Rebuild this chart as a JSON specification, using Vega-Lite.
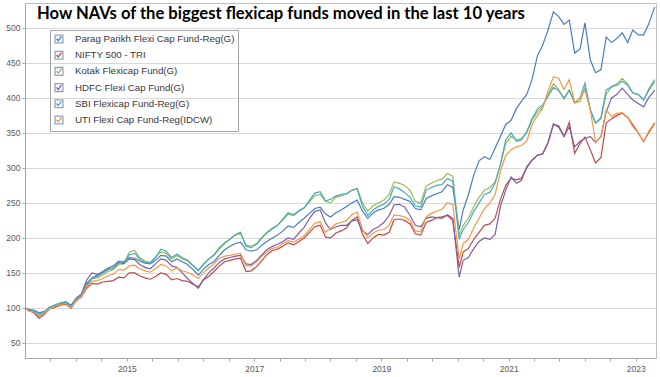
{
  "$schema": "https://vega.github.io/schema/vega-lite/v6.json",
  "width": 631,
  "height": 355,
  "autosize": {"type": "none"},
  "padding": {"left": 25, "top": 3, "right": 4, "bottom": 19},
  "background": "white",
  "title": {
    "text": "How NAVs of the biggest flexicap funds moved in the last 10 years",
    "anchor": "start",
    "frame": "group",
    "font": "Lato",
    "fontSize": 16.6,
    "fontWeight": "bold",
    "color": "#000000",
    "offset": -20,
    "dx": 12
  },
  "config": {
    "view": {"stroke": "#BFBFBF", "strokeWidth": 1},
    "font": "Liberation Sans"
  },
  "layer": [
    {
      "data": {
        "values": [
          {"d": "2013-05-28", "P": 100, "N": 100, "K": 100, "H": 100, "S": 100, "U": 100},
          {"d": "2013-06-15", "P": 98, "N": 96, "K": 97, "H": 97, "S": 97, "U": 96},
          {"d": "2013-07-15", "P": 97, "N": 94, "K": 95, "H": 93, "S": 96, "U": 94},
          {"d": "2013-08-15", "P": 93, "N": 88, "K": 89, "H": 85, "S": 91, "U": 88},
          {"d": "2013-09-15", "P": 95, "N": 92, "K": 93, "H": 91, "S": 95, "U": 92},
          {"d": "2013-10-15", "P": 101, "N": 99, "K": 100, "H": 99, "S": 101, "U": 99},
          {"d": "2013-11-15", "P": 104, "N": 101, "K": 103, "H": 101, "S": 104, "U": 102},
          {"d": "2013-12-15", "P": 107, "N": 104, "K": 106, "H": 105, "S": 107, "U": 105},
          {"d": "2014-01-15", "P": 109, "N": 105, "K": 107, "H": 107, "S": 108, "U": 106},
          {"d": "2014-02-15", "P": 104, "N": 100, "K": 101, "H": 100, "S": 102, "U": 100},
          {"d": "2014-03-15", "P": 114, "N": 110, "K": 112, "H": 112, "S": 112, "U": 110},
          {"d": "2014-04-15", "P": 120, "N": 116, "K": 118, "H": 120, "S": 118, "U": 116},
          {"d": "2014-05-15", "P": 135, "N": 128, "K": 132, "H": 140, "S": 133, "U": 130},
          {"d": "2014-06-15", "P": 143, "N": 135, "K": 142, "H": 150, "S": 142, "U": 138},
          {"d": "2014-07-15", "P": 147, "N": 134, "K": 143, "H": 148, "S": 145, "U": 139},
          {"d": "2014-08-15", "P": 152, "N": 137, "K": 147, "H": 150, "S": 150, "U": 142},
          {"d": "2014-09-15", "P": 157, "N": 138, "K": 152, "H": 155, "S": 155, "U": 146},
          {"d": "2014-10-15", "P": 160, "N": 139, "K": 155, "H": 157, "S": 157, "U": 148},
          {"d": "2014-11-15", "P": 167, "N": 144, "K": 162, "H": 165, "S": 164, "U": 155},
          {"d": "2014-12-15", "P": 166, "N": 143, "K": 163, "H": 163, "S": 165, "U": 154},
          {"d": "2015-01-15", "P": 172, "N": 150, "K": 180, "H": 170, "S": 176, "U": 160},
          {"d": "2015-02-15", "P": 171, "N": 150, "K": 182, "H": 169, "S": 178, "U": 161},
          {"d": "2015-03-15", "P": 167, "N": 146, "K": 172, "H": 162, "S": 170, "U": 156},
          {"d": "2015-04-15", "P": 164, "N": 143, "K": 167, "H": 158, "S": 165, "U": 153},
          {"d": "2015-05-15", "P": 163, "N": 141, "K": 165, "H": 156, "S": 164, "U": 151},
          {"d": "2015-06-15", "P": 168, "N": 145, "K": 173, "H": 163, "S": 172, "U": 156},
          {"d": "2015-07-15", "P": 175, "N": 150, "K": 180, "H": 170, "S": 184, "U": 162},
          {"d": "2015-08-15", "P": 174, "N": 148, "K": 178, "H": 168, "S": 181, "U": 160},
          {"d": "2015-09-15", "P": 166, "N": 140, "K": 170, "H": 160, "S": 172, "U": 153},
          {"d": "2015-10-15", "P": 170, "N": 142, "K": 175, "H": 158, "S": 177, "U": 157},
          {"d": "2015-11-15", "P": 166, "N": 139, "K": 170, "H": 150, "S": 172, "U": 153},
          {"d": "2015-12-15", "P": 162, "N": 138, "K": 167, "H": 142, "S": 168, "U": 151},
          {"d": "2016-01-15", "P": 155, "N": 134, "K": 160, "H": 135, "S": 161, "U": 147},
          {"d": "2016-02-15", "P": 147, "N": 130, "K": 153, "H": 128, "S": 154, "U": 142},
          {"d": "2016-03-15", "P": 155, "N": 140, "K": 162, "H": 140, "S": 162, "U": 150},
          {"d": "2016-04-15", "P": 162, "N": 145, "K": 170, "H": 150, "S": 170, "U": 157},
          {"d": "2016-05-15", "P": 166, "N": 152, "K": 175, "H": 157, "S": 176, "U": 163},
          {"d": "2016-06-15", "P": 175, "N": 160, "K": 184, "H": 165, "S": 186, "U": 171},
          {"d": "2016-07-15", "P": 183, "N": 166, "K": 192, "H": 170, "S": 193, "U": 174},
          {"d": "2016-08-15", "P": 188, "N": 168, "K": 198, "H": 172, "S": 198, "U": 175},
          {"d": "2016-09-15", "P": 192, "N": 170, "K": 204, "H": 174, "S": 205, "U": 177},
          {"d": "2016-10-15", "P": 194, "N": 171, "K": 206, "H": 175, "S": 208, "U": 178},
          {"d": "2016-11-15", "P": 183, "N": 152, "K": 190, "H": 163, "S": 188, "U": 160},
          {"d": "2016-12-15", "P": 181, "N": 153, "K": 188, "H": 162, "S": 186, "U": 160},
          {"d": "2017-01-15", "P": 183, "N": 159, "K": 192, "H": 168, "S": 191, "U": 166},
          {"d": "2017-02-15", "P": 190, "N": 168, "K": 201, "H": 176, "S": 200, "U": 174},
          {"d": "2017-03-15", "P": 195, "N": 176, "K": 208, "H": 183, "S": 207, "U": 180},
          {"d": "2017-04-15", "P": 200, "N": 182, "K": 214, "H": 188, "S": 213, "U": 185},
          {"d": "2017-05-15", "P": 204, "N": 184, "K": 218, "H": 191, "S": 218, "U": 187},
          {"d": "2017-06-15", "P": 210, "N": 188, "K": 226, "H": 195, "S": 227, "U": 192},
          {"d": "2017-07-15", "P": 217, "N": 193, "K": 234, "H": 200, "S": 236, "U": 196},
          {"d": "2017-08-15", "P": 215, "N": 190, "K": 232, "H": 198, "S": 233, "U": 194},
          {"d": "2017-09-15", "P": 222, "N": 195, "K": 238, "H": 207, "S": 239, "U": 198},
          {"d": "2017-10-15", "P": 228, "N": 200, "K": 243, "H": 215, "S": 243, "U": 203},
          {"d": "2017-11-15", "P": 235, "N": 208, "K": 252, "H": 228, "S": 254, "U": 212},
          {"d": "2017-12-15", "P": 242, "N": 216, "K": 260, "H": 238, "S": 264, "U": 221},
          {"d": "2018-01-15", "P": 244, "N": 218, "K": 262, "H": 240, "S": 266, "U": 223},
          {"d": "2018-02-15", "P": 234, "N": 201, "K": 252, "H": 221, "S": 253, "U": 208},
          {"d": "2018-03-15", "P": 230, "N": 200, "K": 250, "H": 212, "S": 255, "U": 214},
          {"d": "2018-04-15", "P": 236, "N": 207, "K": 258, "H": 216, "S": 260, "U": 220},
          {"d": "2018-05-15", "P": 240, "N": 210, "K": 260, "H": 218, "S": 262, "U": 222},
          {"d": "2018-06-15", "P": 245, "N": 214, "K": 263, "H": 218, "S": 263, "U": 225},
          {"d": "2018-07-15", "P": 250, "N": 225, "K": 268, "H": 224, "S": 268, "U": 233},
          {"d": "2018-08-15", "P": 254, "N": 230, "K": 271, "H": 226, "S": 270, "U": 237},
          {"d": "2018-09-15", "P": 238, "N": 205, "K": 250, "H": 210, "S": 245, "U": 212},
          {"d": "2018-10-15", "P": 228, "N": 192, "K": 238, "H": 205, "S": 232, "U": 200},
          {"d": "2018-11-15", "P": 236, "N": 200, "K": 246, "H": 212, "S": 240, "U": 207},
          {"d": "2018-12-15", "P": 240, "N": 205, "K": 250, "H": 216, "S": 245, "U": 211},
          {"d": "2019-01-15", "P": 242, "N": 204, "K": 254, "H": 222, "S": 248, "U": 212},
          {"d": "2019-02-15", "P": 248, "N": 208, "K": 262, "H": 232, "S": 255, "U": 218},
          {"d": "2019-03-15", "P": 259, "N": 226, "K": 280, "H": 247, "S": 273, "U": 233},
          {"d": "2019-04-15", "P": 258, "N": 227, "K": 278, "H": 248, "S": 270, "U": 232},
          {"d": "2019-05-15", "P": 255, "N": 225, "K": 275, "H": 244, "S": 265, "U": 230},
          {"d": "2019-06-15", "P": 252, "N": 220, "K": 268, "H": 232, "S": 258, "U": 225},
          {"d": "2019-07-15", "P": 242, "N": 206, "K": 252, "H": 218, "S": 246, "U": 210},
          {"d": "2019-08-15", "P": 240, "N": 204, "K": 250, "H": 216, "S": 244, "U": 209},
          {"d": "2019-09-15", "P": 256, "N": 222, "K": 274, "H": 228, "S": 268, "U": 230},
          {"d": "2019-10-15", "P": 260, "N": 225, "K": 278, "H": 230, "S": 272, "U": 235},
          {"d": "2019-11-15", "P": 263, "N": 229, "K": 282, "H": 229, "S": 275, "U": 238},
          {"d": "2019-12-15", "P": 266, "N": 230, "K": 284, "H": 228, "S": 276, "U": 241},
          {"d": "2020-01-15", "P": 276, "N": 232, "K": 292, "H": 233, "S": 285, "U": 250},
          {"d": "2020-02-15", "P": 272, "N": 225, "K": 288, "H": 228, "S": 281, "U": 248},
          {"d": "2020-03-23", "P": 212, "N": 158, "K": 204, "H": 144, "S": 198, "U": 170},
          {"d": "2020-04-15", "P": 240, "N": 180, "K": 218, "H": 168, "S": 212, "U": 192},
          {"d": "2020-05-15", "P": 262, "N": 185, "K": 228, "H": 172, "S": 222, "U": 198},
          {"d": "2020-06-15", "P": 290, "N": 198, "K": 245, "H": 185, "S": 238, "U": 215},
          {"d": "2020-07-15", "P": 310, "N": 208, "K": 258, "H": 195, "S": 250, "U": 228},
          {"d": "2020-08-15", "P": 316, "N": 218, "K": 268, "H": 200, "S": 262, "U": 242},
          {"d": "2020-09-15", "P": 312, "N": 220, "K": 272, "H": 198, "S": 265, "U": 250},
          {"d": "2020-10-15", "P": 328, "N": 228, "K": 280, "H": 205, "S": 278, "U": 262},
          {"d": "2020-11-15", "P": 345, "N": 255, "K": 305, "H": 245, "S": 305, "U": 295},
          {"d": "2020-12-15", "P": 362, "N": 275, "K": 335, "H": 268, "S": 340, "U": 318},
          {"d": "2021-01-15", "P": 368, "N": 285, "K": 345, "H": 287, "S": 350, "U": 326},
          {"d": "2021-02-15", "P": 385, "N": 283, "K": 340, "H": 278, "S": 338, "U": 330},
          {"d": "2021-03-15", "P": 395, "N": 285, "K": 342, "H": 282, "S": 340, "U": 332},
          {"d": "2021-04-15", "P": 405, "N": 300, "K": 350, "H": 302, "S": 352, "U": 338},
          {"d": "2021-05-15", "P": 426, "N": 311, "K": 368, "H": 311, "S": 370, "U": 362},
          {"d": "2021-06-15", "P": 460, "N": 318, "K": 380, "H": 318, "S": 384, "U": 375},
          {"d": "2021-07-15", "P": 475, "N": 320, "K": 387, "H": 320, "S": 390, "U": 385},
          {"d": "2021-08-15", "P": 497, "N": 336, "K": 405, "H": 336, "S": 402, "U": 410},
          {"d": "2021-09-15", "P": 523, "N": 363, "K": 420, "H": 362, "S": 415, "U": 430},
          {"d": "2021-10-15", "P": 516, "N": 358, "K": 412, "H": 360, "S": 410, "U": 428},
          {"d": "2021-11-15", "P": 505, "N": 345, "K": 398, "H": 345, "S": 400, "U": 412},
          {"d": "2021-12-15", "P": 511, "N": 365, "K": 411, "H": 359, "S": 411, "U": 426},
          {"d": "2022-01-15", "P": 464, "N": 321, "K": 393, "H": 330, "S": 393, "U": 393},
          {"d": "2022-02-15", "P": 470, "N": 335, "K": 395, "H": 338, "S": 400, "U": 400},
          {"d": "2022-03-15", "P": 507, "N": 344, "K": 415, "H": 342, "S": 421, "U": 411},
          {"d": "2022-04-15", "P": 454, "N": 326, "K": 383, "H": 345, "S": 383, "U": 383},
          {"d": "2022-05-15", "P": 436, "N": 307, "K": 364, "H": 336, "S": 364, "U": 336},
          {"d": "2022-06-15", "P": 440, "N": 315, "K": 370, "H": 345, "S": 372, "U": 345},
          {"d": "2022-07-15", "P": 487, "N": 364, "K": 405, "H": 380, "S": 411, "U": 383},
          {"d": "2022-08-15", "P": 479, "N": 370, "K": 416, "H": 400, "S": 416, "U": 373},
          {"d": "2022-09-15", "P": 485, "N": 375, "K": 420, "H": 405, "S": 418, "U": 378},
          {"d": "2022-10-15", "P": 493, "N": 378, "K": 428, "H": 414, "S": 424, "U": 379},
          {"d": "2022-11-15", "P": 479, "N": 372, "K": 420, "H": 405, "S": 418, "U": 372},
          {"d": "2022-12-15", "P": 497, "N": 362, "K": 407, "H": 397, "S": 407, "U": 359},
          {"d": "2023-01-15", "P": 490, "N": 350, "K": 405, "H": 392, "S": 405, "U": 350},
          {"d": "2023-02-15", "P": 490, "N": 338, "K": 397, "H": 387, "S": 397, "U": 337},
          {"d": "2023-03-15", "P": 505, "N": 350, "K": 410, "H": 400, "S": 412, "U": 352},
          {"d": "2023-04-20", "P": 530, "N": 364, "K": 423, "H": 411, "S": 426, "U": 365}
        ]
      },
      "transform": [{"fold": ["P", "N", "K", "H", "S", "U"], "as": ["s", "v"]}],
      "mark": {"type": "line", "strokeWidth": 1.2},
      "encoding": {
        "x": {
          "field": "d",
          "type": "temporal",
          "scale": {"domain": [{"year": 2013, "month": 5, "date": 26}, {"year": 2023, "month": 4, "date": 27}]},
          "axis": {
            "title": null,
            "grid": false,
            "values": [
              {"year": 2013, "month": 10, "date": 19}, {"year": 2014, "month": 3, "date": 14}, {"year": 2014, "month": 8, "date": 7},
              {"year": 2015, "month": 1, "date": 1}, {"year": 2015, "month": 5, "date": 27}, {"year": 2015, "month": 10, "date": 19},
              {"year": 2016, "month": 3, "date": 14}, {"year": 2016, "month": 8, "date": 7}, {"year": 2017, "month": 1, "date": 1},
              {"year": 2017, "month": 5, "date": 27}, {"year": 2017, "month": 10, "date": 19}, {"year": 2018, "month": 3, "date": 14},
              {"year": 2018, "month": 8, "date": 7}, {"year": 2019, "month": 1, "date": 1}, {"year": 2019, "month": 5, "date": 27},
              {"year": 2019, "month": 10, "date": 19}, {"year": 2020, "month": 3, "date": 14}, {"year": 2020, "month": 8, "date": 7},
              {"year": 2021, "month": 1, "date": 1}, {"year": 2021, "month": 5, "date": 27}, {"year": 2021, "month": 10, "date": 19},
              {"year": 2022, "month": 3, "date": 14}, {"year": 2022, "month": 8, "date": 7}, {"year": 2023, "month": 1, "date": 1}
            ],
            "labelExpr": "month(datum.value) == 0 && date(datum.value) == 1 ? timeFormat(datum.value, '%Y') : ''",
            "labelFont": "Liberation Sans",
            "labelFontSize": 8.5,
            "labelColor": "#595959",
            "labelPadding": 3,
            "tickSize": 3,
            "tickColor": "#A6A6A6",
            "domainColor": "#A6A6A6",
            "labelFlush": false,
            "labelOverlap": false
          }
        },
        "y": {
          "field": "v",
          "type": "quantitative",
          "scale": {"domain": [28.5, 535.5], "nice": false, "zero": false},
          "axis": {
            "title": null,
            "values": [50, 100, 150, 200, 250, 300, 350, 400, 450, 500],
            "grid": true,
            "gridColor": "#D9D9D9",
            "gridWidth": 1,
            "labelFont": "Liberation Sans",
            "labelFontSize": 8.5,
            "labelColor": "#595959",
            "labelPadding": 2,
            "tickSize": 3,
            "tickColor": "#A6A6A6",
            "domainColor": "#A6A6A6"
          }
        },
        "color": {
          "field": "s",
          "type": "nominal",
          "scale": {
            "domain": ["P", "N", "K", "H", "S", "U"],
            "range": ["#4A7EBB", "#BE4B48", "#98B954", "#7D60A0", "#46AAC5", "#F79646"]
          },
          "legend": {
            "title": null,
            "orient": "none",
            "legendX": 25,
            "legendY": 27,
            "padding": 3,
            "strokeColor": "#A6A6A6",
            "symbolType": "M-0.915,-0.915M-0.5,-0.05L-0.15,0.35L0.5,-0.5M0.915,0.915",
            "symbolSize": 100,
            "symbolStrokeWidth": 1.3,
            "symbolOpacity": 1,
            "labelFont": "Liberation Sans",
            "labelFontSize": 9.7,
            "labelColor": "#383838",
            "labelOffset": 10,
            "rowPadding": 0.2,
            "labelLimit": 300,
            "labelExpr": "datum.label == 'P' ? 'Parag Parikh Flexi Cap Fund-Reg(G)' : datum.label == 'N' ? 'NIFTY 500 - TRI' : datum.label == 'K' ? 'Kotak Flexicap Fund(G)' : datum.label == 'H' ? 'HDFC Flexi Cap Fund(G)' : datum.label == 'S' ? 'SBI Flexicap Fund-Reg(G)' : 'UTI Flexi Cap Fund-Reg(IDCW)'"
          }
        }
      }
    },
    {
      "data": {"values": []},
      "mark": {"type": "point", "filled": false, "color": "#8EA4C2"},
      "encoding": {
        "shape": {
          "field": "b",
          "type": "nominal",
          "scale": {
            "domain": ["p", "n", "k", "h", "s", "u"],
            "range": [
              "M-0.915,-0.915M-0.78,-0.78L0.78,-0.78L0.78,0.78L-0.78,0.78ZM0.915,0.915",
              "M-0.915,-0.915M-0.78,-0.78L0.78,-0.78L0.78,0.78L-0.78,0.78ZM0.915,0.915",
              "M-0.915,-0.915M-0.78,-0.78L0.78,-0.78L0.78,0.78L-0.78,0.78ZM0.915,0.915",
              "M-0.915,-0.915M-0.78,-0.78L0.78,-0.78L0.78,0.78L-0.78,0.78ZM0.915,0.915",
              "M-0.915,-0.915M-0.78,-0.78L0.78,-0.78L0.78,0.78L-0.78,0.78ZM0.915,0.915",
              "M-0.915,-0.915M-0.78,-0.78L0.78,-0.78L0.78,0.78L-0.78,0.78ZM0.915,0.915"
            ]
          },
          "legend": {
            "title": null,
            "orient": "none",
            "legendX": 25,
            "legendY": 27,
            "padding": 3,
            "symbolSize": 100,
            "symbolStrokeColor": "#8EA4C2",
            "symbolFillColor": "transparent",
            "symbolStrokeWidth": 1.3,
            "symbolOpacity": 1,
            "labelFont": "Liberation Sans",
            "labelFontSize": 9.7,
            "labelExpr": "''",
            "labelOffset": 10,
            "rowPadding": 0.2
          }
        }
      }
    }
  ]
}
